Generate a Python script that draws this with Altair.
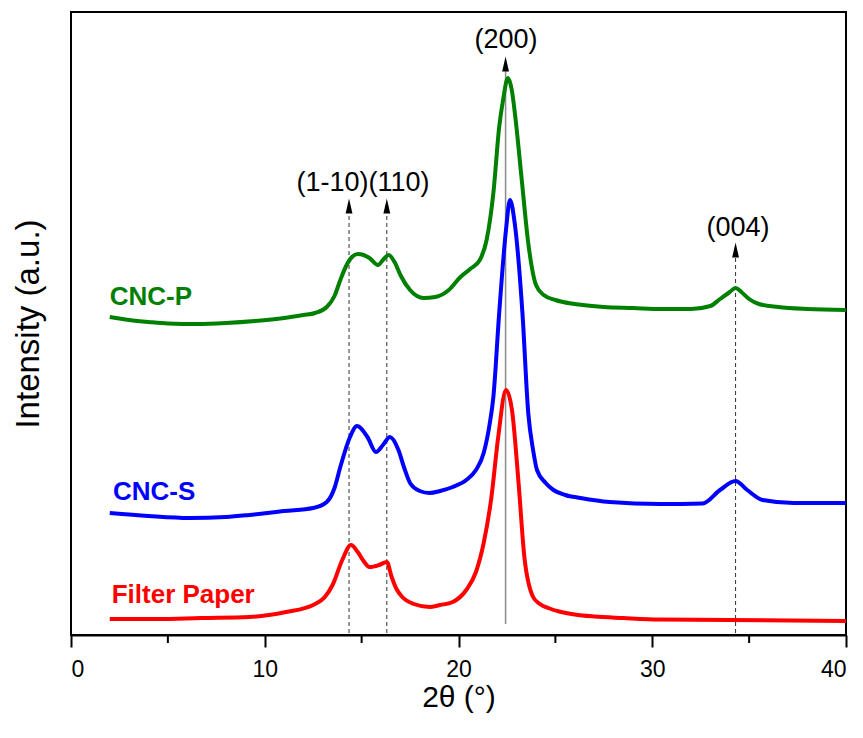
import altair as alt
import pandas as pd

# XRD patterns (2-theta in degrees, intensity in arbitrary units, curves stacked)
cncp_x = [2.0, 3.0, 4.0, 5.0, 6.5, 8.0, 9.5, 11.0, 12.0, 12.6, 13.2, 13.6, 13.9, 14.2, 14.5,
          14.8, 15.1, 15.4, 15.85, 16.1, 16.4, 16.7, 17.0, 17.5, 18.2, 18.8, 19.5, 20.1, 20.6,
          21.1, 21.45, 21.8, 22.1, 22.3, 22.55, 22.75, 22.95, 23.25, 23.6, 24.0, 24.4, 25.0,
          26.0, 27.5, 29.0, 30.5, 32.0, 33.0, 33.5, 34.0, 34.3, 34.6, 35.0, 35.5, 36.5, 38.0, 40.0]
cncp_y = [318, 315, 313, 311.5, 311, 312, 314, 317, 320, 322, 328, 339, 355, 369, 378,
          381, 380, 377, 370, 375, 380, 373, 360, 345, 337, 338, 345, 358, 366,
          375, 395, 442, 508, 535, 557, 545, 515, 458, 392, 350, 340, 335,
          331, 328, 327, 326, 326, 329, 336, 343, 347, 343, 336, 331, 328, 326, 325]

cncs_x = [2.0, 4.0, 6.1, 8.0, 9.2, 11.0, 12.5, 13.2, 13.6, 13.9, 14.4, 14.76, 15.3, 15.74,
          16.1, 16.46, 16.9, 17.2, 17.5, 18.0, 18.5, 19.05, 19.7, 20.4, 20.9, 21.3, 21.6,
          21.8, 22.1, 22.45, 22.66, 22.9, 23.3, 23.6, 23.85, 24.05, 24.5, 24.9, 25.5, 26.3,
          27.8, 30.4, 32.6, 33.5, 34.3, 34.9, 35.7, 37.3, 40.0]
cncs_y = [122, 119, 117, 118, 120, 124, 127, 133, 147, 168, 198, 209, 198, 183,
          190, 198, 185, 167, 152, 144, 142, 144, 148, 155, 165, 182, 210,
          238, 322, 405, 435, 412, 322, 222, 185, 165, 152, 145, 140, 137,
          133, 131, 131.5, 145, 154, 145, 135, 132, 132]

paper_x = [2.0, 4.5, 6.7, 9.2, 11.1, 12.5, 13.1, 13.5, 14.0, 14.45, 14.8, 15.1, 15.4, 15.9,
           16.3, 16.55, 16.8, 17.1, 17.7, 18.5, 19.05, 19.7, 20.4, 20.9, 21.3, 21.7, 22.05,
           22.45, 22.76, 23.1, 23.4, 23.85, 24.2, 24.7, 25.2, 26.0, 27.0, 28.5, 30.4, 40.0]
paper_y = [16, 16, 17, 18, 23, 30, 38, 50, 75, 90, 83, 74, 68, 70,
           73, 58, 46, 38, 31, 28, 30, 33, 45, 63, 92, 138, 198,
           245, 225, 152, 78, 38, 31, 26.5, 23.5, 20.5, 18.5, 17, 15.5, 14]

series_names = ["CNC-P", "CNC-S", "Filter Paper"]
series_colors = ["#008000", "#0000FF", "#FF0000"]

# Reflection markers: position, arrow height, label
peak_x = [14.35, 16.3, 22.43, 34.3]
peak_top = [422, 422, 564, 378]
peak_dashed = [True, True, False, True]
label_text = ["(1-10)(110)", "(200)", "(004)"]
label_x = [15.07, 22.45, 34.43]
label_y = [452, 595, 407]

name_x = [2.0, 2.17, 2.1]
name_y = [330, 135, 32]

minor_x = [5, 15, 25, 35]

curves = pd.concat([
    pd.DataFrame({"x": cncp_x, "y": cncp_y, "s": "CNC-P"}),
    pd.DataFrame({"x": cncs_x, "y": cncs_y, "s": "CNC-S"}),
    pd.DataFrame({"x": paper_x, "y": paper_y, "s": "Filter Paper"}),
], ignore_index=True)

peaks = pd.DataFrame({"x": peak_x, "top": peak_top, "dashed": peak_dashed,
                      "arrow": [t + 7 for t in peak_top], "bottom": [2, 2, 11, 2]})
labels = pd.DataFrame({"x": label_x, "y": label_y, "t": label_text})
names = pd.DataFrame({"x": name_x, "y": name_y, "s": series_names})
minors = pd.DataFrame({"x": minor_x})

FONT = "Liberation Sans, Arial, sans-serif"

xscale = alt.Scale(domain=[0, 40], nice=False, zero=False)
yscale = alt.Scale(domain=[0, 623], nice=False, zero=False)
cscale = alt.Scale(domain=series_names, range=series_colors)

x_axis = alt.Axis(values=[0, 10, 20, 30, 40], title="2θ (°)", grid=False,
                  tickSize=12, tickWidth=2, tickColor="black", domainColor="black",
                  domainWidth=2, labelFont="Liberation Sans Narrow, Liberation Sans, sans-serif",
                  labelFontSize=23, labelColor="black", labelPadding=11,
                  titleFont=FONT, titleFontSize=30, titleFontWeight="normal",
                  titleColor="black", titleBaseline="alphabetic", titleY=71)
y_axis = alt.Axis(title="Intensity (a.u.)", ticks=False, labels=False, domain=False,
                  grid=False, titleFont=FONT, titleFontSize=33, titleFontWeight="normal",
                  titleColor="black", titlePadding=26)

base_x = alt.X("x:Q", scale=xscale, axis=x_axis)

dashed_rules = alt.Chart(peaks).transform_filter("datum.dashed").mark_rule(
    color="#333333", strokeWidth=1, strokeDash=[4, 3]
).encode(
    x=base_x,
    y=alt.Y("bottom:Q", scale=yscale, axis=y_axis),
    y2="top:Q",
)

solid_rule = alt.Chart(peaks).transform_filter("!datum.dashed").mark_rule(
    color="#8c8c8c", strokeWidth=1.5
).encode(
    x=alt.X("x:Q", scale=xscale),
    y=alt.Y("bottom:Q", scale=yscale),
    y2="top:Q",
)

lines = alt.Chart(curves).mark_line(strokeWidth=4, interpolate="monotone").encode(
    x=alt.X("x:Q", scale=xscale),
    y=alt.Y("y:Q", scale=yscale),
    color=alt.Color("s:N", scale=cscale, legend=None),
    detail="s:N",
)

arrows = alt.Chart(peaks).mark_point(
    shape="M0,-1L0.45,1L-0.45,1Z", filled=True, color="black", size=230, opacity=1
).encode(
    x=alt.X("x:Q", scale=xscale),
    y=alt.Y("arrow:Q", scale=yscale),
)

peak_labels = alt.Chart(labels).mark_text(
    font=FONT, fontSize=27, color="black", align="center", baseline="middle"
).encode(
    x=alt.X("x:Q", scale=xscale),
    y=alt.Y("y:Q", scale=yscale),
    text="t:N",
)

series_labels = alt.Chart(names).mark_text(
    font=FONT, fontSize=26, fontWeight="bold", align="left", baseline="alphabetic"
).encode(
    x=alt.X("x:Q", scale=xscale),
    y=alt.Y("y:Q", scale=yscale),
    text="s:N",
    color=alt.Color("s:N", scale=cscale, legend=None),
)

minor_ticks = alt.Chart(minors).mark_rule(color="black", strokeWidth=2).encode(
    x=alt.X("x:Q", scale=xscale),
    y=alt.value(623),
    y2=alt.value(631),
)

chart = alt.layer(
    dashed_rules, solid_rule, lines, arrows, peak_labels, series_labels, minor_ticks
).properties(
    width=775,
    height=623,
    autosize=alt.AutoSizeParams(type="none"),
    padding={"left": 71, "top": 12, "right": 17, "bottom": 103},
    background="white",
).configure_view(
    stroke="black", strokeWidth=2
)

chart.save("out.html", embed_options={"renderer": "svg", "actions": False})
